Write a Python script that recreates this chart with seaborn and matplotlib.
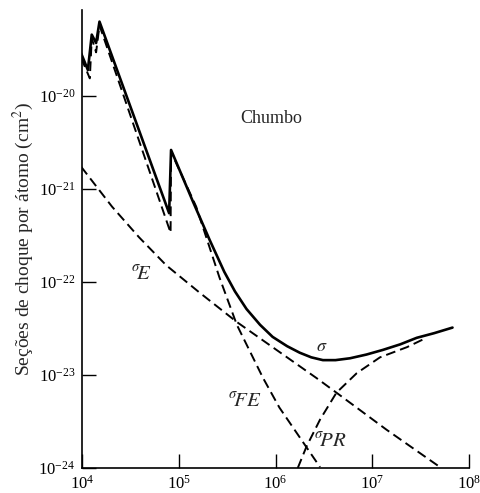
import matplotlib
matplotlib.use("Agg")
import matplotlib.pyplot as plt
import numpy as np
import pandas as pd
import seaborn as sns

# values, as log10(energy / eV) and log10(cross section / cm^2)
tot_logE = [3.99, 4.06, 4.10, 4.145, 4.18, 4.90, 4.92, 5.14, 5.32, 5.47, 5.58, 5.70,
            5.84, 5.97, 6.12, 6.25, 6.37, 6.49, 6.62, 6.77, 6.94, 7.11, 7.29, 7.46, 7.64, 7.83]
tot_logS = [-19.54, -19.72, -19.34, -19.43, -19.20, -21.26, -20.58, -21.12, -21.55, -21.89, -22.10, -22.29,
            -22.46, -22.59, -22.69, -22.76, -22.81, -22.84, -22.84, -22.82, -22.78, -22.73, -22.67, -22.60, -22.55, -22.49]

fe_logE = [3.99, 4.08, 4.10, 4.145, 4.18, 4.915, 4.92, 5.18, 5.42, 5.60, 5.87, 6.04, 6.46]
fe_logS = [-19.59, -19.81, -19.38, -19.53, -19.24, -21.47, -20.60, -21.19, -21.95, -22.46, -23.03, -23.35, -23.99]

e_logE = [3.99, 4.31, 4.59, 4.87, 5.21, 5.60, 6.01, 6.42, 6.63, 7.15, 7.70]
e_logS = [-20.76, -21.19, -21.52, -21.82, -22.11, -22.43, -22.73, -23.03, -23.19, -23.59, -23.99]

pr_logE = [6.23, 6.32, 6.46, 6.63, 6.84, 7.08, 7.36, 7.56]
pr_logS = [-24.0, -23.77, -23.48, -23.19, -22.98, -22.81, -22.70, -22.60]

x_ticks = [1e4, 1e5, 1e6, 1e7, 1e8]
y_ticks = [1e-24, 1e-23, 1e-22, 1e-21, 1e-20]


def frame(logE, logS):
    return pd.DataFrame({"E": np.power(10.0, logE), "s": np.power(10.0, logS)})


sns.set_style("ticks")
plt.rcParams["font.family"] = ["Liberation Serif", "DejaVu Serif"]
plt.rcParams["mathtext.fontset"] = "stix"

fig = plt.figure(figsize=(4.8, 4.93), dpi=100)
ax = fig.add_axes([0.171, 0.0507, 0.806, 0.929])

dash = (5, 2.6)
sns.lineplot(data=frame(tot_logE, tot_logS), x="E", y="s", ax=ax, color="black",
             lw=1.9, estimator=None, sort=False)
for logE, logS in [(fe_logE, fe_logS), (e_logE, e_logS), (pr_logE, pr_logS)]:
    sns.lineplot(data=frame(logE, logS), x="E", y="s", ax=ax, color="black",
                 lw=1.4, estimator=None, sort=False)
    ax.lines[-1].set_dashes(dash)

ax.set_xscale("log")
ax.set_yscale("log")
ax.set_xlim(1e4, 1e8)
ax.set_ylim(1e-24, 10 ** -19.075)
ax.set_xticks(x_ticks)
ax.set_yticks(y_ticks)
ax.minorticks_off()
ax.tick_params(direction="in", length=10, width=1, labelsize=12, colors="black")
ax.tick_params(axis="x", pad=5)
ax.tick_params(axis="y", pad=5)
# the bottom y label sits a little above the axis line, as in the scan
ax.get_yticklabels()[0].set_va("center_baseline")
ax.set_xlabel("")
ax.set_ylabel("Seções de choque por átomo (cm$^2$)", fontsize=14, labelpad=2)
sns.despine(ax=ax)
for sp in ax.spines.values():
    sp.set_linewidth(1.2)
    sp.set_color("black")

ax.text(10 ** 5.96, 10 ** -20.24, "Chumbo", fontsize=13, ha="center", va="center")
ax.text(10 ** 6.48, 10 ** -22.69, r"$\sigma$", fontsize=13, ha="center", va="center")
ax.text(10 ** 4.62, 10 ** -21.92, r"${}^{\sigma}\!E$", fontsize=15, ha="center", va="center")
ax.text(10 ** 5.68, 10 ** -23.29, r"${}^{\sigma}\!FE$", fontsize=15, ha="center", va="center")
ax.text(10 ** 6.57, 10 ** -23.72, r"${}^{\sigma}\!PR$", fontsize=15, ha="center", va="center")

fig.savefig("out.png", dpi=100)
